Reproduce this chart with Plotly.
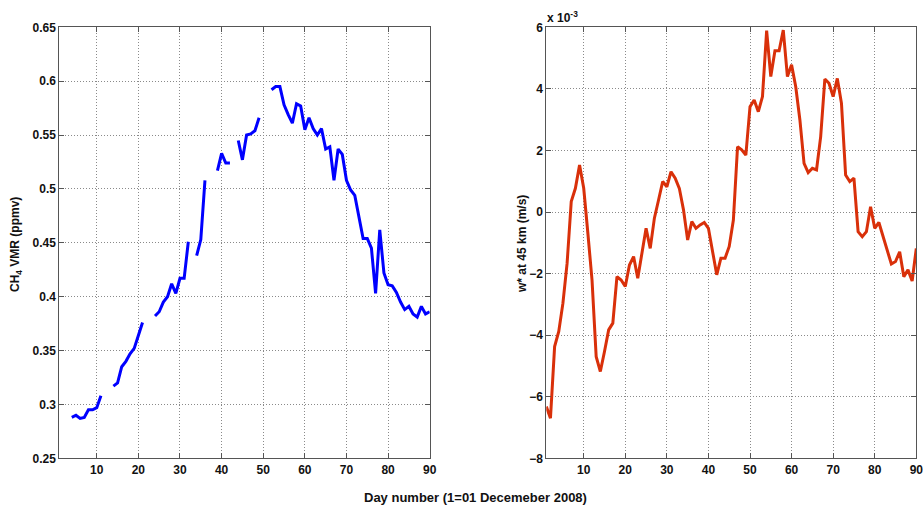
import plotly.graph_objects as go

days = list(range(1, 91))

# CH4 VMR (ppmv); None = no data (gaps)
ch4_vmr = [
    None, None, None, 0.288, 0.290, 0.287, 0.288, 0.295, 0.295, 0.297,
    0.308, None, None, 0.317, 0.320, 0.335, 0.340, 0.347, 0.352, 0.364,
    0.376, None, None, 0.382, 0.386, 0.395, 0.400, 0.412, 0.403, 0.417,
    0.417, 0.451, None, 0.438, 0.453, 0.508, None, None, 0.517, 0.533,
    0.524, 0.524, None, 0.545, 0.527, 0.550, 0.551, 0.554, 0.566, None,
    None, 0.592, 0.595, 0.595, 0.578, 0.569, 0.561, 0.579, 0.577, 0.555,
    0.566, 0.556, 0.550, 0.556, 0.537, 0.539, 0.508, 0.537, 0.532, 0.508,
    0.499, 0.494, 0.474, 0.454, 0.454, 0.445, 0.403, 0.462, 0.422, 0.411,
    0.410, 0.404, 0.395, 0.388, 0.391, 0.384, 0.381, 0.391, 0.384, 0.386,
]

# w* at 45 km, in units of 1e-3 m/s
w_star_e3 = [
    -6.32, -6.70, -4.37, -3.88, -2.96, -1.67, 0.34, 0.77, 1.53, 0.77,
    -0.69, -2.21, -4.70, -5.18, -4.53, -3.83, -3.61, -2.10, -2.21, -2.42,
    -1.72, -1.45, -2.15, -1.40, -0.53, -1.18, -0.20, 0.39, 0.99, 0.82,
    1.31, 1.10, 0.77, 0.07, -0.91, -0.31, -0.53, -0.42, -0.34, -0.53,
    -1.34, -2.04, -1.50, -1.50, -1.12, -0.26, 2.12, 2.02, 1.85, 3.42,
    3.64, 3.26, 3.75, 5.89, 4.40, 5.24, 5.24, 5.91, 4.40, 4.78,
    4.07, 2.99, 1.58, 1.28, 1.42, 1.37, 2.45, 4.32, 4.18, 3.75,
    4.34, 3.53, 1.20, 0.99, 1.10, -0.64, -0.80, -0.64, 0.17, -0.53,
    -0.34, -0.80, -1.23, -1.69, -1.61, -1.29, -2.10, -1.88, -2.24, -1.18,
]

x_ticks = [10, 20, 30, 40, 50, 60, 70, 80, 90]
y1_ticks = [0.25, 0.3, 0.35, 0.4, 0.45, 0.5, 0.55, 0.6, 0.65]
y1_labels = ["0.25", "0.3", "0.35", "0.4", "0.45", "0.5", "0.55", "0.6", "0.65"]
y2_ticks = [-8, -6, -4, -2, 0, 2, 4, 6]

FONT = "Arial, 'Liberation Sans', sans-serif"
W, H = 923, 507


def px_x(p):
    return p / W


def px_y(p):
    return 1 - p / H


fig = go.Figure()
fig.add_trace(go.Scatter(x=days, y=ch4_vmr, mode="lines", connectgaps=False,
                         line=dict(color="#0000FF", width=3), xaxis="x", yaxis="y",
                         showlegend=False))
fig.add_trace(go.Scatter(x=days, y=w_star_e3, mode="lines",
                         line=dict(color="#D9300A", width=3), xaxis="x2", yaxis="y2",
                         showlegend=False))

ax_common = dict(showline=True, linecolor="#555555", linewidth=1, mirror="ticks",
                 ticks="inside", ticklen=5, tickcolor="#555555",
                 showgrid=True, gridcolor="#8a8a8a", griddash="1px,2px", gridwidth=1,
                 zeroline=False, automargin=False, ticklabeloverflow="allow",
                 tickfont=dict(family=FONT, size=12, color="#111111", weight="bold"))

fig.update_layout(
    width=W, height=H,
    margin=dict(l=0, r=0, t=0, b=0, pad=0, autoexpand=False),
    paper_bgcolor="white", plot_bgcolor="white",
    font=dict(family=FONT, color="#111111"),
    xaxis=dict(domain=[px_x(59.3), px_x(429.7)], range=[1, 90], tickvals=x_ticks,
               anchor="y", **ax_common),
    yaxis=dict(domain=[px_y(458.3), px_y(27.3)], range=[0.25, 0.65],
               tickvals=y1_ticks, ticktext=y1_labels, anchor="x", **ax_common),
    xaxis2=dict(domain=[px_x(546.3), px_x(916.3)], range=[1, 90], tickvals=x_ticks,
                anchor="y2", **ax_common),
    yaxis2=dict(domain=[px_y(458.3), px_y(27.3)], range=[-8, 6],
                tickvals=y2_ticks, anchor="x2", **ax_common),
    annotations=[
        dict(text="<b>Day number (1=01 Decemeber 2008)</b>", x=px_x(475), y=px_y(497),
             xref="paper", yref="paper", showarrow=False,
             font=dict(family=FONT, size=13, color="#111111"), xanchor="center", yanchor="middle"),
        dict(text="<b>CH<sub>4</sub> VMR (ppmv)</b>", x=px_x(16), y=px_y(245),
             xref="paper", yref="paper", showarrow=False, textangle=-90,
             font=dict(family=FONT, size=12, color="#111111"), xanchor="center", yanchor="middle"),
        dict(text="<b>w* at 45 km (m/s)</b>", x=px_x(522), y=px_y(244),
             xref="paper", yref="paper", showarrow=False, textangle=-90,
             font=dict(family=FONT, size=12, color="#111111"), xanchor="center", yanchor="middle"),
        dict(text="<b>x 10<sup>-3</sup></b>", x=px_x(545), y=px_y(17),
             xref="paper", yref="paper", showarrow=False,
             font=dict(family=FONT, size=12, color="#111111"), xanchor="left", yanchor="middle"),
    ],
)

# remove the default page margin so the figure fills the window exactly
fig.write_html(
    "out.html",
    config={"displayModeBar": False},
    post_script="document.body.style.margin='0';"
                "document.documentElement.style.overflow='hidden';",
)
